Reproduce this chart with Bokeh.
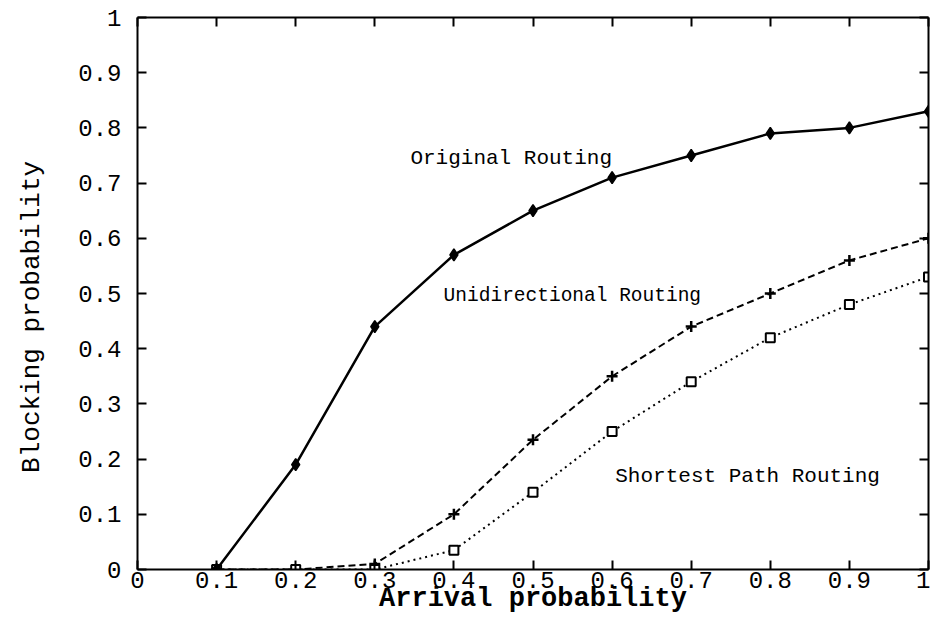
from bokeh.plotting import figure
from bokeh.models import LinearAxis, Range1d, Label, FixedTicker
from bokeh.embed import file_html
from bokeh.resources import INLINE

x_vals = [0.1, 0.2, 0.3, 0.4, 0.5, 0.6, 0.7, 0.8, 0.9, 1.0]
original = [0.0, 0.19, 0.44, 0.57, 0.65, 0.71, 0.75, 0.79, 0.80, 0.83]
unidirectional = [0.0, 0.0, 0.01, 0.10, 0.235, 0.35, 0.44, 0.50, 0.56, 0.60]
shortest = [0.0, 0.0, 0.0, 0.035, 0.14, 0.25, 0.34, 0.42, 0.48, 0.53]
ticks = [0, 0.1, 0.2, 0.3, 0.4, 0.5, 0.6, 0.7, 0.8, 0.9, 1.0]
tick_labels = {0: "0", 0.1: "0.1", 0.2: "0.2", 0.3: "0.3", 0.4: "0.4", 0.5: "0.5",
               0.6: "0.6", 0.7: "0.7", 0.8: "0.8", 0.9: "0.9", 1.0: "1"}

FONT = "Liberation Mono"

p = figure(width=930, height=620, output_backend="svg", toolbar_location=None,
           x_range=Range1d(0, 1), y_range=Range1d(0, 1),
           min_border_left=137, min_border_right=2, min_border_top=17, min_border_bottom=51)
p.grid.visible = False
p.outline_line_color = None
p.background_fill_color = "white"

for ax in [p.xaxis[0], p.yaxis[0]]:
    ax.ticker = FixedTicker(ticks=ticks)
    ax.major_label_overrides = tick_labels
    ax.major_tick_in = 9
    ax.major_tick_out = 0
    ax.minor_tick_line_color = None
    ax.axis_line_width = 2
    ax.major_tick_line_width = 2
    ax.major_label_text_font = FONT
    ax.major_label_text_font_size = "24px"
    ax.major_label_text_color = "black"
p.xaxis[0].major_label_standoff = 2
p.yaxis[0].major_label_standoff = 16

p.xaxis[0].axis_label = "Arrival probability"
p.xaxis[0].axis_label_text_font = FONT
p.xaxis[0].axis_label_text_font_size = "27px"
p.xaxis[0].axis_label_text_font_style = "bold"
p.xaxis[0].axis_label_standoff = -7
p.xaxis[0].axis_label_text_color = "black"

p.yaxis[0].axis_label = "Blocking probability\u00a0\u00a0\u00a0"
p.yaxis[0].axis_label_text_font = FONT
p.yaxis[0].axis_label_text_font_size = "26px"
p.yaxis[0].axis_label_text_font_style = "normal"
p.yaxis[0].axis_label_standoff = 28
p.yaxis[0].axis_label_text_color = "black"

for loc in ["above", "right"]:
    a = LinearAxis(ticker=FixedTicker(ticks=ticks))
    a.major_tick_in = 9
    a.major_tick_out = 0
    a.minor_tick_line_color = None
    a.axis_line_width = 2
    a.major_tick_line_width = 2
    a.major_label_overrides = {t: "" for t in ticks}
    a.major_label_standoff = 0
    p.add_layout(a, loc)

# lines
p.line(x_vals, unidirectional, line_color="black", line_width=2, line_dash="7 4")
p.scatter(x_vals, unidirectional, marker="cross", size=11, line_color="black", line_width=2.5)

p.line(x_vals, shortest, line_color="black", line_width=2, line_dash="2 4")
p.scatter(x_vals, shortest, marker="square", size=9, fill_color="white", line_color="black", line_width=2)

p.line(x_vals, original, line_color="black", line_width=2.5)
p.scatter(x_vals, original, marker="diamond", size=12, fill_color="black", line_color="black", line_width=1.5)

for txt, xx, yy, fs in [("Original Routing", 0.345, 0.745, "21px"),
                        ("Unidirectional Routing", 0.387, 0.495, "19.5px"),
                        ("Shortest Path Routing", 0.604, 0.168, "21px")]:
    p.add_layout(Label(x=xx, y=yy, text=txt, text_font=FONT, text_font_size=fs,
                       text_baseline="middle", text_align="left", text_color="black"))

open("out.html", "w").write(file_html(p, INLINE))
